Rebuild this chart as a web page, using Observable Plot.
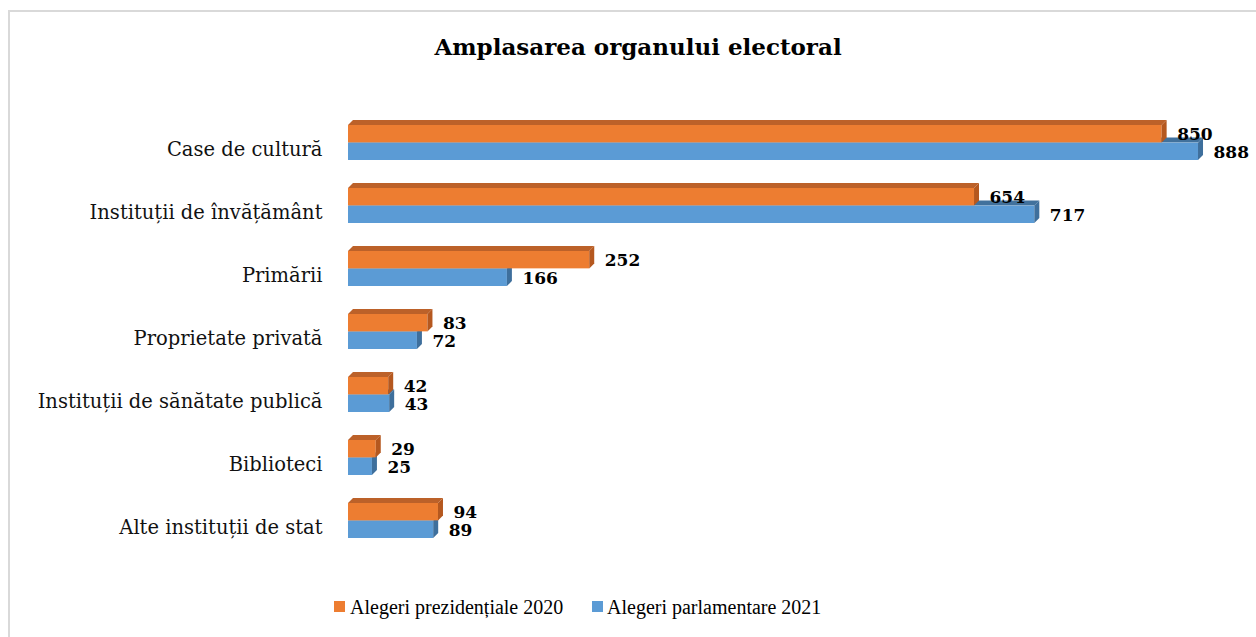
<!DOCTYPE html>
<html>
<head>
<meta charset="utf-8">
<script src="https://cdn.jsdelivr.net/npm/d3@7"></script>
<script src="https://cdn.jsdelivr.net/npm/@observablehq/plot@0.6"></script>
<style>
  html, body { margin: 0; padding: 0; background: #fff; width: 1256px; height: 637px; overflow: hidden; }
  #frame { position: absolute; left: 8px; top: 10px; width: 1300px; height: 700px; border-left: 2px solid #d9d9d9; border-top: 2px solid #d9d9d9; }
  #title { position: absolute; left: 0; top: 32px; width: 1276px; text-align: center; font-family: "DejaVu Serif", serif; font-weight: bold; font-size: 23px; color: #000; line-height: 30px; }
  #chart { position: absolute; left: 0; top: 100px; }
  #legend { position: absolute; top: 0; left: 0; font-family: "Liberation Serif", "DejaVu Serif", serif; font-size: 20px; color: #000; }
  .sw { position: absolute; width: 11px; height: 11px; top: 601px; }
  .lt { position: absolute; top: 594px; line-height: 26px; white-space: nowrap; }
</style>
</head>
<body>
<div id="frame"></div>
<div id="title">Amplasarea organului electoral</div>
<div id="chart"></div>
<div id="legend"></div>
<script>
const categories = [
  "Case de cultură",
  "Instituții de învățământ",
  "Primării",
  "Proprietate privată",
  "Instituții de sănătate publică",
  "Biblioteci",
  "Alte instituții de stat"
];
const seriesNames = ["Alegeri prezidențiale 2020", "Alegeri parlamentare 2021"];
const values2020 = [850, 654, 252, 83, 42, 29, 94];
const values2021 = [888, 717, 166, 72, 43, 25, 89];
const colors = ["#ED7D31", "#5B9BD5"];
const sideColors = ["#B5581F", "#3E6F9C"];
const topColors = ["#BC6129", "#41719C"];

const rows = categories.flatMap((c, i) => [
  {category: c, series: 0, value: values2020[i]},
  {category: c, series: 1, value: values2021[i]}
]);
const orange = rows.filter(d => d.series === 0);
const blue = rows.filter(d => d.series === 1);

const D = 5; // depth in px
const H = 470, MT = 11, MB = 18;
const bandPad = 0.44;
const step = (H - MT - MB) / categories.length;
const bw = step * (1 - bandPad);
const half = bw / 2;

function faces(data, s, which) {
  return (index, scales) => {
    const x = scales.x, y = scales.y;
    const b = y.bandwidth ? y.bandwidth() : bw;
    const g = d3.create("svg:g");
    for (const d of data) {
      const y0 = y(d.category) + (s === 0 ? 0 : b / 2);
      const y1 = y0 + b / 2;
      const x0 = x(0), x1 = x(d.value);
      const pts = which === "top"
        ? [[x0, y0], [x1, y0], [x1 + D, y0 - D], [x0 + D, y0 - D]]
        : [[x1, y0], [x1 + D, y0 - D], [x1 + D, y1 - D], [x1, y1]];
      g.append("polygon").attr("points", pts.map(p => p.join(",")).join(" "))
        .attr("fill", which === "top" ? topColors[s] : sideColors[s]);
    }
    return g.node();
  };
}

const chart = Plot.plot({
  width: 1256,
  height: H,
  marginLeft: 348,
  marginRight: 46.5,
  marginTop: MT,
  marginBottom: MB,
  style: {fontFamily: "'DejaVu Serif', serif", background: "transparent", overflow: "visible"},
  x: {domain: [0, 900], axis: null},
  y: {domain: categories, paddingInner: bandPad, paddingOuter: bandPad / 2, axis: null},
  marks: [
    Plot.axisY({tickSize: 0, tickPadding: 26, fontSize: 19.5, dy: 7, label: null, fill: "#111"}),
    faces(blue, 1, "top"),
    Plot.barX(blue, {x: "value", y: "category", fill: colors[1], insetTop: half}),
    faces(blue, 1, "side"),
    faces(orange, 0, "top"),
    Plot.barX(orange, {x: "value", y: "category", fill: colors[0], insetBottom: half}),
    faces(orange, 0, "side"),
    Plot.text(orange, {x: "value", y: "category", text: d => String(d.value), dx: 15, dy: -half / 2, textAnchor: "start",
      fontWeight: "bold", fontSize: 17, fill: "#000"}),
    Plot.text(blue, {x: "value", y: "category", text: d => String(d.value), dx: 15, dy: half / 2 + 1, textAnchor: "start",
      fontWeight: "bold", fontSize: 17, fill: "#000"})
  ]
});
document.getElementById("chart").appendChild(chart);

const legend = d3.select("#legend");
const swX = [334, 592], txX = [350, 607];
seriesNames.forEach((name, i) => {
  legend.append("div").attr("class", "sw").style("left", swX[i] + "px").style("background", colors[i]);
  legend.append("div").attr("class", "lt").style("left", txX[i] + "px").text(name);
});
</script>
</body>
</html>
